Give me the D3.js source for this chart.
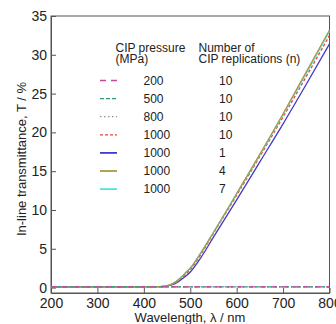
<!DOCTYPE html>
<html><head><meta charset="utf-8">
<script src="https://cdn.jsdelivr.net/npm/d3@7"></script>
<style>
html,body{margin:0;padding:0;background:#fff;}
svg{display:block;font-family:"Liberation Sans",Arial,sans-serif;}
</style></head>
<body><svg id="c" width="336" height="324"></svg>
<script>
const wavelengths = [200, 300, 400, 430, 440, 450, 460, 470, 480, 490, 500, 520, 550, 600, 650, 700, 750, 800];
const t200_10  = [0.1, 0.1, 0.1, 0.1, 0.1, 0.1, 0.1, 0.1, 0.1, 0.1, 0.1, 0.1, 0.1, 0.1, 0.1, 0.1, 0.1, 0.1];
const t500_10  = [0.1, 0.1, 0.1, 0.1, 0.1, 0.1, 0.1, 0.1, 0.1, 0.1, 0.1, 0.1, 0.1, 0.1, 0.1, 0.1, 0.1, 0.1];
const t800_10  = [0.1, 0.1, 0.1, 0.1, 0.1, 0.1, 0.1, 0.1, 0.1, 0.1, 0.1, 0.1, 0.1, 0.1, 0.1, 0.1, 0.1, 0.1];
const t1000_10 = [0.1, 0.1, 0.1, 0.12, 0.15, 0.22, 0.38, 0.7, 1.15, 1.7, 2.3, 4.0, 7.0, 11.9, 16.9, 22.0, 27.2, 32.5];
const t1000_1  = [0.1, 0.1, 0.1, 0.11, 0.13, 0.19, 0.33, 0.6, 1.0, 1.45, 2.0, 3.6, 6.5, 11.3, 16.2, 21.1, 26.2, 31.4];
const t1000_4  = [0.1, 0.1, 0.1, 0.12, 0.16, 0.25, 0.45, 0.8, 1.3, 1.9, 2.5, 4.2, 7.1, 12.1, 17.2, 22.4, 27.8, 33.2];
const t1000_7  = [0.1, 0.1, 0.1, 0.12, 0.16, 0.25, 0.45, 0.8, 1.3, 1.9, 2.5, 4.2, 7.1, 12.1, 17.1, 22.3, 27.6, 33.0];
const pressures = ["200", "500", "800", "1000", "1000", "1000", "1000"];
const replications = ["10", "10", "10", "10", "1", "4", "7"];
const seriesValues = [t200_10, t500_10, t800_10, t1000_10, t1000_1, t1000_4, t1000_7];
const colors = ["#c8449e", "#2f9c70", "#8e8e9e", "#e8443c", "#3c3cc8", "#a89a48", "#4ee4e4"];
const dashes = ["6,5", "4,2", "1.5,2.5", "3,2", null, null, null];
const xTicks = [200, 300, 400, 500, 600, 700, 800];
const yTicks = [0, 5, 10, 15, 20, 25, 30, 35];

const svg = d3.select("#c");
const L = 51, R = 329.5, T = 16, B = 293;
const x = d3.scaleLinear().domain([200, 800]).range([L, R]);
const y = d3.scaleLinear().domain([-0.7, 35]).range([B, T]);
const axisColor = "#555";

// frame
svg.append("rect").attr("x", L).attr("y", T).attr("width", R - L).attr("height", B - T)
  .attr("fill", "none").attr("stroke", axisColor).attr("stroke-width", 1);

// axes (inward ticks)
const xa = svg.append("g").attr("transform", `translate(0,${B})`)
  .call(d3.axisBottom(x).tickValues(xTicks).tickSizeInner(-5).tickSizeOuter(0).tickPadding(5));
const ya = svg.append("g").attr("transform", `translate(${L},0)`)
  .call(d3.axisLeft(y).tickValues(yTicks).tickSizeInner(-5).tickSizeOuter(0).tickPadding(4));
[xa, ya].forEach(a => {
  a.select(".domain").attr("stroke", axisColor);
  a.selectAll(".tick line").attr("stroke", axisColor);
  a.selectAll("text").attr("fill", "#222").style("font-size", "14px")
    .style("font-family", '"Liberation Sans",Arial,sans-serif');
});

// lines
const line = d3.line().x((d, i) => x(wavelengths[i])).y(d => y(d)).curve(d3.curveMonotoneX);
const order = [4, 3, 6, 5, 2, 1, 0];
order.forEach(k => {
  svg.append("path").datum(seriesValues[k]).attr("d", line)
    .attr("fill", "none").attr("stroke", colors[k]).attr("stroke-width", 1.3)
    .attr("stroke-dasharray", dashes[k]);
});

// legend
const lg = svg.append("g").style("font-size", "12px").attr("fill", "#222");
lg.append("text").attr("x", 115.5).attr("y", 52).text("CIP pressure");
lg.append("text").attr("x", 115.5).attr("y", 62.5).text("(MPa)");
lg.append("text").attr("x", 198.5).attr("y", 52).text("Number of");
lg.append("text").attr("x", 198.5).attr("y", 62.5).text("CIP replications (n)");
pressures.forEach((p, i) => {
  const cy = 80.5 + i * 18.1;
  lg.append("line").attr("x1", 100).attr("x2", 117).attr("y1", cy).attr("y2", cy)
    .attr("stroke", colors[i]).attr("stroke-width", i >= 4 ? 1.8 : 1.3)
    .attr("stroke-dasharray", dashes[i]);
  lg.append("text").attr("x", 143.5).attr("y", cy + 4.3).text(p);
  lg.append("text").attr("x", 219).attr("y", cy + 4.3).text(replications[i]);
});

// axis titles
svg.append("text").attr("x", 190).attr("y", 322).attr("text-anchor", "middle")
  .style("font-size", "13px").attr("fill", "#222").text("Wavelength, λ / nm");
svg.append("text").attr("transform", "translate(26,159) rotate(-90)").attr("text-anchor", "middle")
  .style("font-size", "13px").attr("fill", "#222").text("In-line transmittance, T / %");
</script></body></html>
